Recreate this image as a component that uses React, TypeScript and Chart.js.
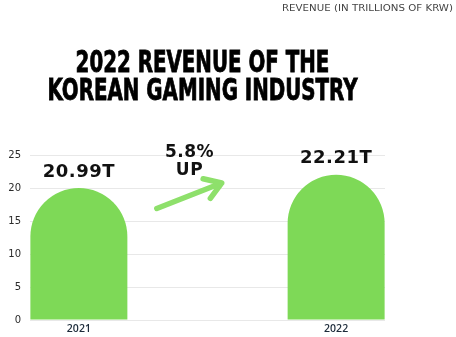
import React, { useEffect, useRef } from "react";
import { Chart, registerables } from "chart.js";

Chart.register(...registerables);

const years = [2021, 2022];
const yearLabels = ["2021", "2022"];
const barValues = [20, 22];
const revenueTrillions = [20.99, 22.21];
const valueLabels = revenueTrillions.map((v) => v.toFixed(2) + "T");
const growthPct = ((revenueTrillions[1] - revenueTrillions[0]) / revenueTrillions[0]) * 100;
const growthLines = [growthPct.toFixed(1) + "%", "UP"];
const titleLines = ["2022 REVENUE OF THE", "KOREAN GAMING INDUSTRY"];
const subtitle = "REVENUE (IN TRILLIONS OF KRW)";
const yTicks = [0, 5, 10, 15, 20, 25];
// arrow in data coordinates [x, y]
const arrowFrom = [2021.303, 16.9];
const arrowTo = [2021.555, 20.75];
const growthTextAt = [2021.43, 25.3, 22.7];

const BAR_COLOR = "#7ED957";
const ARROW_COLOR = "#8EE06B";

const overlayPlugin = {
  id: "overlay",
  afterDatasetsDraw(chart: any) {
    const ctx = chart.ctx as CanvasRenderingContext2D;
    const xs = chart.scales.x;
    const ys = chart.scales.y;
    ctx.save();

    const meta = chart.getDatasetMeta(0);
    ctx.fillStyle = "#111";
    ctx.font = "bold 18px 'DejaVu Sans'";
    ctx.textAlign = "center";
    ctx.textBaseline = "middle";
    (ctx as any).letterSpacing = "0.5px";
    meta.data.forEach((bar: any, i: number) => {
      ctx.fillText(valueLabels[i], bar.x, bar.y - 16);
    });

    ctx.font = "bold 17px 'DejaVu Sans'";
    const gx = xs.getPixelForValue(growthTextAt[0]);
    ctx.fillText(growthLines[0], gx, ys.getPixelForValue(growthTextAt[1]));
    ctx.fillText(growthLines[1], gx, ys.getPixelForValue(growthTextAt[2]));
    (ctx as any).letterSpacing = "0px";

    const x1 = xs.getPixelForValue(arrowFrom[0]);
    const y1 = ys.getPixelForValue(arrowFrom[1]);
    const x2 = xs.getPixelForValue(arrowTo[0]);
    const y2 = ys.getPixelForValue(arrowTo[1]);
    const ang = Math.atan2(y2 - y1, x2 - x1);
    ctx.strokeStyle = ARROW_COLOR;
    ctx.lineWidth = 5.5;
    ctx.lineCap = "round";
    ctx.lineJoin = "round";
    ctx.beginPath();
    ctx.moveTo(x1, y1);
    ctx.lineTo(x2, y2);
    const head = 19;
    ctx.moveTo(x2 + head * Math.cos(ang + Math.PI - 0.56), y2 + head * Math.sin(ang + Math.PI - 0.56));
    ctx.lineTo(x2, y2);
    ctx.lineTo(x2 + head * Math.cos(ang + Math.PI + 0.6), y2 + head * Math.sin(ang + Math.PI + 0.6));
    ctx.stroke();

    ctx.restore();
  },
  afterDraw(chart: any) {
    const ctx = chart.ctx as CanvasRenderingContext2D;
    ctx.save();
    ctx.fillStyle = "#444";
    ctx.font = "9.5px 'DejaVu Sans'";
    ctx.textAlign = "right";
    ctx.textBaseline = "middle";
    const sw = ctx.measureText(subtitle).width;
    ctx.save();
    ctx.translate(453, 9);
    ctx.scale(171 / sw, 1);
    ctx.fillText(subtitle, 0, 0);
    ctx.restore();

    ctx.fillStyle = "#000";
    ctx.strokeStyle = "#000";
    ctx.lineWidth = 0.8;
    ctx.font = "bold 30px 'Liberation Sans Narrow', 'DejaVu Sans Condensed', sans-serif";
    ctx.textAlign = "center";
    ctx.textBaseline = "alphabetic";
    const targetW = 310;
    const w2 = ctx.measureText(titleLines[1]).width;
    const sx = targetW / w2;
    const cx = 202.5;
    const baselines = [72, 100];
    titleLines.forEach((line, i) => {
      ctx.save();
      ctx.translate(cx, baselines[i]);
      ctx.scale(sx, 1);
      ctx.fillText(line, 0, 0);
      ctx.strokeText(line, 0, 0);
      ctx.restore();
    });
    ctx.restore();
  },
};

export default function App() {
  const ref = useRef<HTMLCanvasElement>(null);
  useEffect(() => {
    if (!ref.current) return;
    const chart = new Chart(ref.current, {
      type: "bar",
      data: {
        datasets: [
          {
            data: years.map((x, i) => ({ x, y: barValues[i] })),
            backgroundColor: BAR_COLOR,
            borderWidth: 0,
            borderSkipped: "bottom",
            borderRadius: { topLeft: 60, topRight: 60, bottomLeft: 0, bottomRight: 0 },
            barPercentage: 1,
            categoryPercentage: 0.377,
          } as any,
        ],
      },
      options: {
        responsive: false,
        animation: false,
        layout: { padding: { top: 155, right: 71, left: 0, bottom: 0 } },
        plugins: { legend: { display: false }, tooltip: { enabled: false }, title: { display: false } },
        scales: {
          x: {
            type: "linear",
            offset: false,
            min: 2020.81,
            max: 2022.19,
            grid: { display: false, offset: false, drawTicks: false },
            border: { display: false },
            afterBuildTicks: (scale: any) => {
              scale.ticks = years.map((v) => ({ value: v }));
            },
            afterFit: (scale: any) => {
              scale.height = 17;
            },
            ticks: {
              autoSkip: false,
              maxRotation: 0,
              padding: 3,
              color: "#1d2b3a",
              font: { family: "'Open Sans'", size: 10.5, weight: "600" },
              callback: (v: any) => {
                const i = years.indexOf(Number(v));
                return i >= 0 ? yearLabels[i] : "";
              },
            },
          } as any,
          y: {
            min: 0,
            max: 25,
            afterBuildTicks: (scale: any) => {
              scale.ticks = yTicks.map((v) => ({ value: v }));
            },
            grid: { color: "#e8e8e8", lineWidth: 1, drawTicks: false },
            border: { display: false },
            afterFit: (scale: any) => {
              scale.width = 30;
            },
            ticks: {
              padding: 9,
              color: "#2b2b2b",
              font: { family: "'DejaVu Sans'", size: 10 },
            },
          } as any,
        },
      },
      plugins: [overlayPlugin],
    });
    return () => chart.destroy();
  }, []);
  return (
    <div style={{ position: "fixed", left: 0, top: 0, width: 456, height: 337, background: "#fff" }}>
      <canvas ref={ref} width={456} height={337} />
    </div>
  );
}
